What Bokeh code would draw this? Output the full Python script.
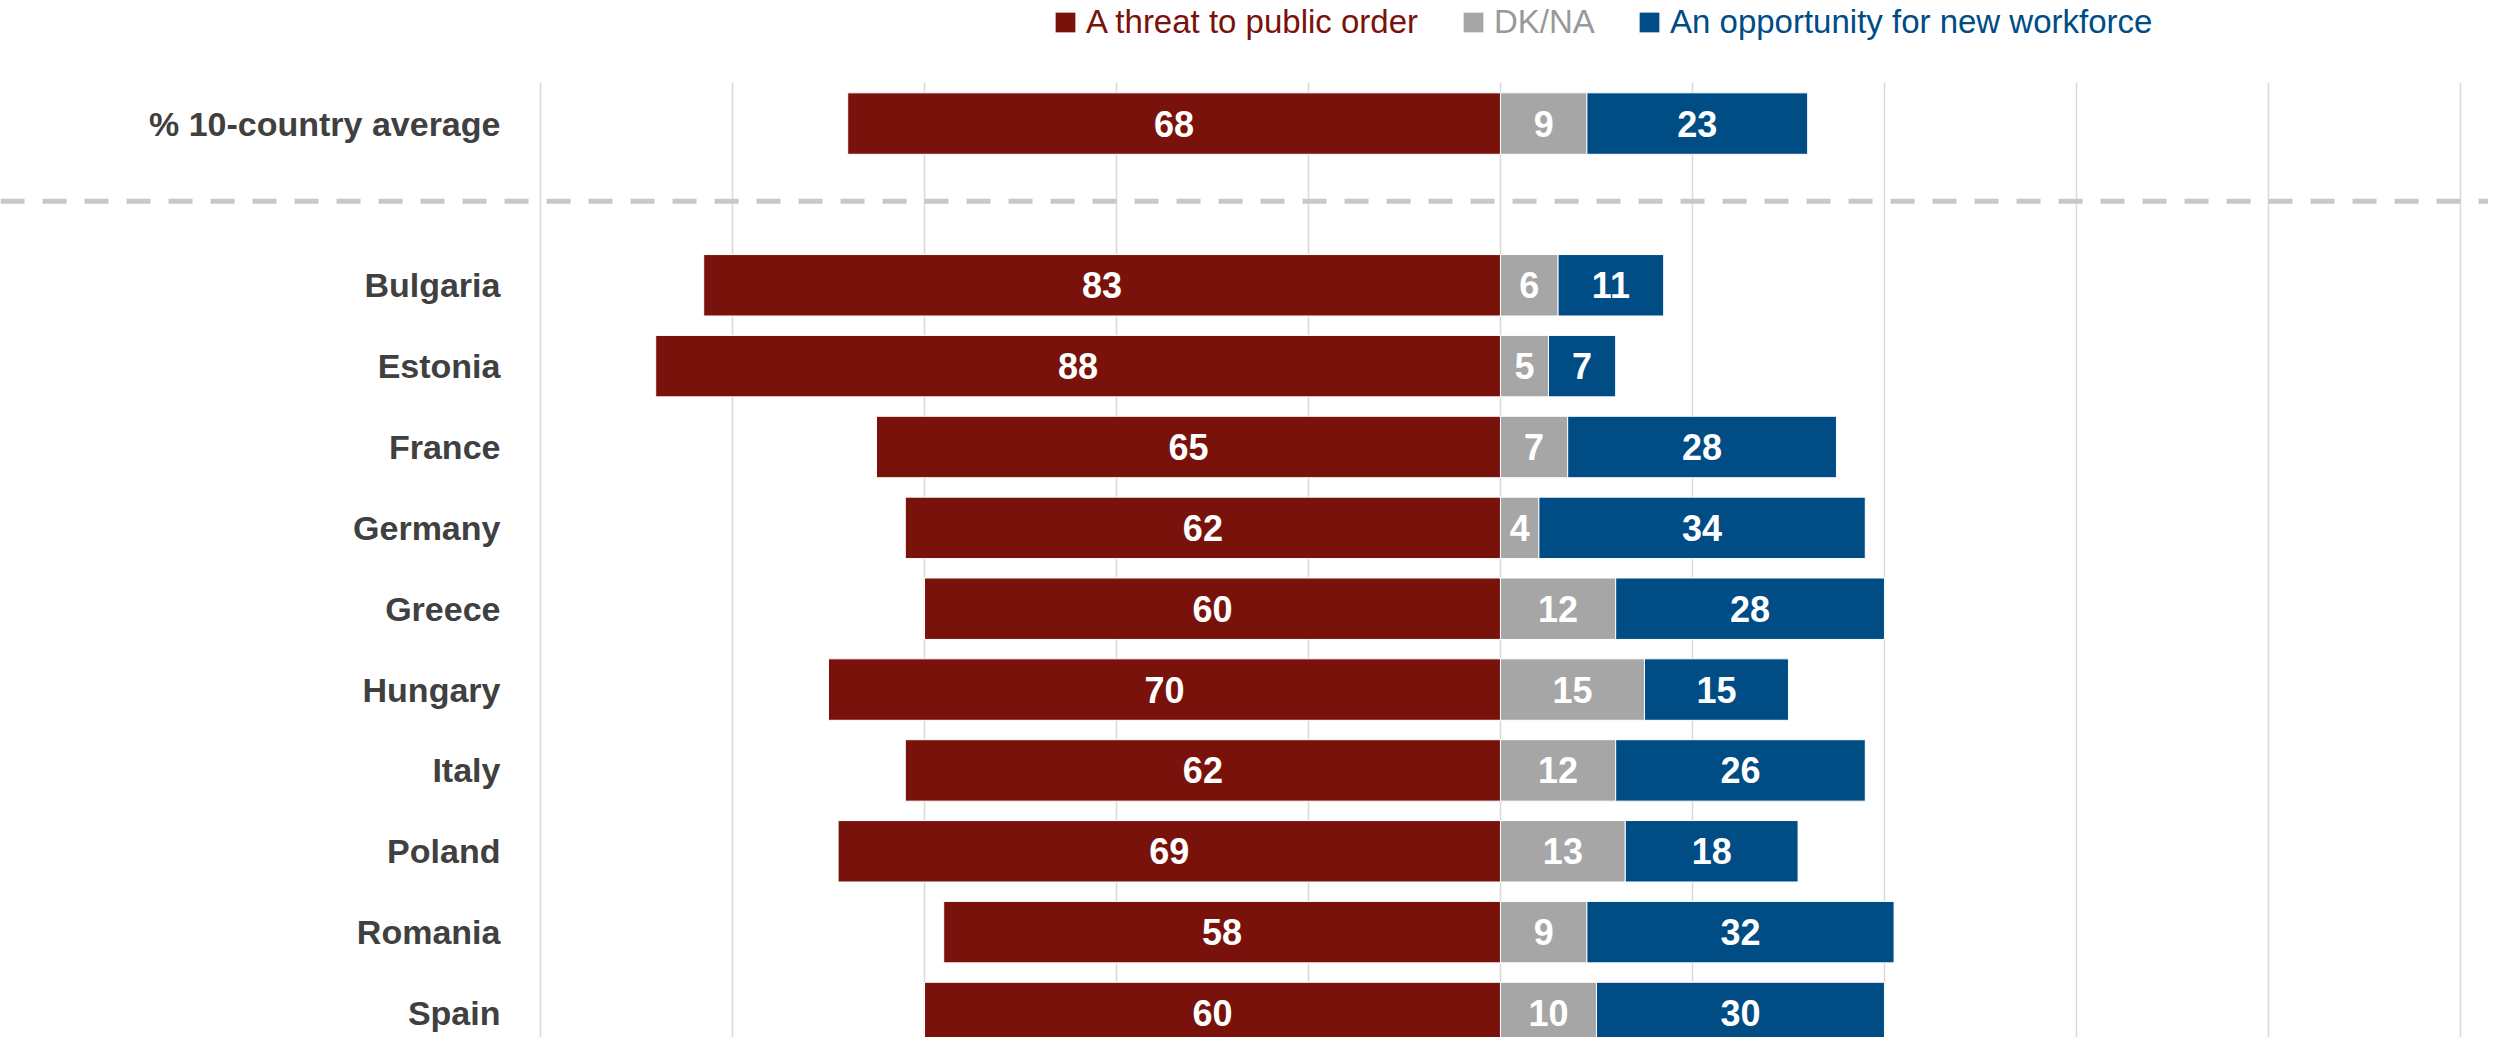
from bokeh.plotting import figure
from bokeh.models import Range1d, Span, Legend, LegendItem, ColumnDataSource
from bokeh.core.properties import value
from bokeh.embed import file_html
from bokeh.resources import INLINE

# ---- data ----
categories = ["% 10-country average", "Bulgaria", "Estonia", "France", "Germany",
              "Greece", "Hungary", "Italy", "Poland", "Romania", "Spain"]
threat = [68, 83, 88, 65, 62, 60, 70, 62, 69, 58, 60]
dkna = [9, 6, 5, 7, 4, 12, 15, 12, 13, 9, 10]
opportunity = [23, 11, 7, 28, 34, 28, 15, 26, 18, 32, 30]
series_names = ["A threat to public order", "DK/NA", "An opportunity for new workforce"]
grid_ticks = [-100, -80, -60, -40, -20, 0, 20, 40, 60, 80, 100]

# ---- styles ----
RED = "#79120a"
GRAY = "#a6a6a6"
BLUE = "#004c85"
LABEL_COLOR = "#404040"
FONT = "Liberation Sans"

n = len(categories)
ypos = [n] + [n - 1 - i for i in range(1, n)]

src = ColumnDataSource(dict(
    cat=categories,
    y=ypos,
    t_left=[-v for v in threat],
    t_right=[0] * n,
    d_left=[0] * n,
    d_right=dkna,
    o_left=dkna,
    o_right=[d + o for d, o in zip(dkna, opportunity)],
    t_mid=[-v / 2 for v in threat],
    d_mid=[d / 2 for d in dkna],
    o_mid=[d + o / 2 for d, o in zip(dkna, opportunity)],
    t_lbl=[str(v) for v in threat],
    d_lbl=[str(v) for v in dkna],
    o_lbl=[str(v) for v in opportunity],
    lab_x=[-104.17] * n,
))

W, H = 2488, 1037
p = figure(width=W, height=H, output_backend="svg", toolbar_location=None,
           x_range=Range1d(-156.25, 102.92), y_range=Range1d(-0.303, 12.522),
           min_border=0, outline_line_color=None)
p.axis.visible = False
p.grid.visible = False
p.background_fill_color = "white"
p.border_fill_color = "white"

# gridlines
p.segment(x0=grid_ticks, x1=grid_ticks, y0=[-0.6] * len(grid_ticks), y1=[11.507] * len(grid_ticks),
          line_color="#d9d9d9", line_width=1.5)

# separator
p.add_layout(Span(location=n - 1 + 0.04, dimension="width", line_color="#c8c8c8",
                  line_width=5, line_dash="24 18"))

bh = 0.76
r_t = p.hbar(y="y", left="t_left", right="t_right", height=bh, source=src,
             fill_color=RED, line_color="white", line_width=1)
r_d = p.hbar(y="y", left="d_left", right="d_right", height=bh, source=src,
             fill_color=GRAY, line_color="white", line_width=1)
r_o = p.hbar(y="y", left="o_left", right="o_right", height=bh, source=src,
             fill_color=BLUE, line_color="white", line_width=1)

common = dict(y="y", source=src, text_align="center", text_baseline="middle",
              text_color="white", text_font=value(FONT), text_font_style="bold",
              text_font_size="36px")
p.text(x="t_mid", text="t_lbl", **common)
p.text(x="d_mid", text="d_lbl", **common)
p.text(x="o_mid", text="o_lbl", **common)

p.text(x="lab_x", y="y", text="cat", source=src, text_align="right", text_baseline="middle",
       text_color=LABEL_COLOR, text_font=value(FONT), text_font_style="bold",
       text_font_size="34px")

# legends
leg_specs = [(r_t, series_names[0], RED, 1052), (r_d, series_names[1], "#999999", 1460),
             (r_o, series_names[2], BLUE, 1636)]
for r, lbl, col, lx in leg_specs:
    lg = Legend(items=[LegendItem(label=lbl, renderers=[r])], location=(lx, 996),
                orientation="horizontal", border_line_color=None, background_fill_alpha=0,
                padding=0, margin=0, glyph_width=26, glyph_height=26, label_height=21,
                label_standoff=8, label_text_color=col, label_text_font=FONT,
                label_text_font_size="33px", label_text_baseline="middle")
    p.add_layout(lg, "center")

open("out.html", "w").write(file_html(p, INLINE))
